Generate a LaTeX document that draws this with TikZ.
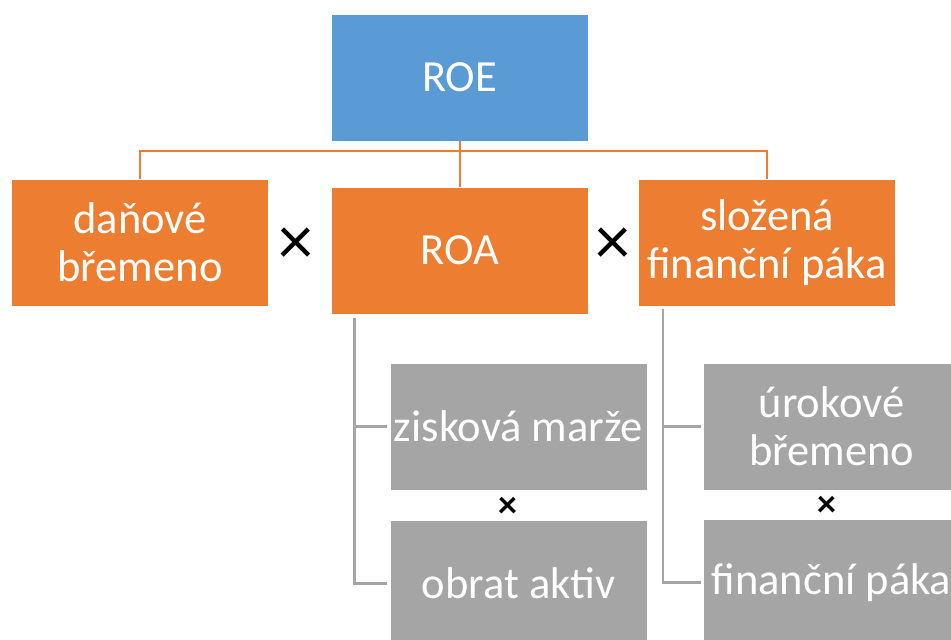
\documentclass[tikz,border=0pt]{standalone}
\usepackage{fontspec}
\setmainfont{Carlito}
\usetikzlibrary{positioning,calc}
\definecolor{roeblue}{RGB}{91,155,213}
\definecolor{roeorange}{RGB}{237,125,49}
\definecolor{roegray}{RGB}{165,165,165}

\begin{document}
\begin{tikzpicture}[x=1pt, y=-1pt,
    box/.style={minimum width=257pt, minimum height=127pt, inner sep=0pt,
        draw=white, line width=0.6pt, text=white, align=center,
        font=\fontsize{44.5}{48}\selectfont},
    orangeline/.style={draw=roeorange, line width=2pt},
    grayline/.style={draw=roegray, line width=2.5pt},
    bigtimes/.style={font=\fontsize{70}{70}\selectfont, inner sep=0pt},
    smalltimes/.style={font=\fontsize{38}{38}\selectfont\bfseries, inner sep=0pt}]
    \useasboundingbox (0,0) rectangle (951,640);

    % top level
    \node[box, fill=roeblue] (roe) at (459.5, 77.5) {ROE};

    % second level
    \node[box, fill=roeorange] (tax) at (140, 242.5) {daňové\\břemeno};
    \node[box, fill=roeorange] (roa) at (459.5, 250.5) {ROA};
    \node[box, fill=roeorange] (lev) at (767, 242.5) {složená\\finanční páka};
    \node[bigtimes] (x1) at (295.5, 246) {×};
    \node[bigtimes] (x2) at (613, 246) {×};

    % third level
    \node[box, fill=roegray] (margin) at (518.5, 426.5) {zisková marže};
    \node[box, fill=roegray] (turnover) at (518.5, 583.5) {obrat aktiv};
    \node[box, fill=roegray] (interest) at (831.5, 426.5) {úrokové\\břemeno};
    \node[box, fill=roegray] (finlev) at (831.5, 582.5) {finanční páka};
    \node[smalltimes] (x3) at (508, 507) {×};
    \node[smalltimes] (x4) at (827, 506) {×};

    % orange connectors
    \coordinate (bus) at (459.5, 151);
    \draw[orangeline] (roe.south) -- (roa.north);
    \draw[orangeline] (tax.north) |- (bus) -| (lev.north);

    % gray connectors
    \coordinate (roaleg) at ($(roa.south west)+(24,4)$);
    \coordinate (levleg) at ($(lev.south west)+(25,3)$);
    \draw[grayline] (roaleg) |- ([xshift=-3pt]margin.west);
    \draw[grayline] (roaleg) |- ([xshift=-3pt]turnover.west);
    \draw[grayline] (levleg) |- ([xshift=-2pt]interest.west);
    \draw[grayline] (levleg) |- ([xshift=-2pt]finlev.west);
\end{tikzpicture}
\end{document}
